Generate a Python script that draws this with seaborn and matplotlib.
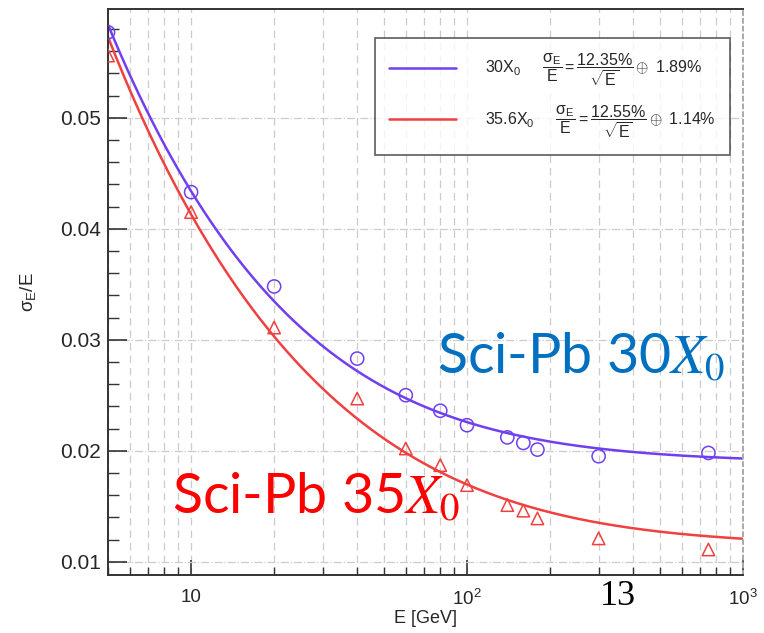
import numpy as np
import pandas as pd
import matplotlib
matplotlib.use('Agg')
import matplotlib.pyplot as plt
import matplotlib.ticker as mticker
import seaborn as sns

energy = [5, 10, 20, 40, 60, 80, 100, 140, 160, 180, 300, 750]
res_30x0 = [0.0577, 0.0433, 0.0348, 0.0283, 0.0250, 0.0236, 0.0223, 0.0212, 0.0207, 0.0201, 0.0195, 0.0198]
res_356x0 = [0.0556, 0.0415, 0.0311, 0.0247, 0.0202, 0.0187, 0.0169, 0.0151, 0.0146, 0.0139, 0.0121, 0.0111]

# fit parameters: sigma/E = a/sqrt(E) (+) b
stoch_30, const_30 = 0.1235, 0.0189
stoch_356, const_356 = 0.1255, 0.0114

blue = '#7040f0'
red = '#f04040'

sns.set_style('white')
plt.rcParams['font.family'] = ['Liberation Sans', 'DejaVu Sans']
plt.rcParams['mathtext.fontset'] = 'custom'
plt.rcParams['mathtext.rm'] = 'Liberation Sans'
plt.rcParams['mathtext.it'] = 'Liberation Sans'
plt.rcParams['mathtext.sf'] = 'Liberation Sans'

df = pd.DataFrame({'E': energy, 'r30': res_30x0, 'r356': res_356x0})

e_fit = np.geomspace(5, 1000, 300)
fit = pd.DataFrame({
    'E': e_fit,
    'f30': np.sqrt((stoch_30 / np.sqrt(e_fit)) ** 2 + const_30 ** 2),
    'f356': np.sqrt((stoch_356 / np.sqrt(e_fit)) ** 2 + const_356 ** 2),
})

fig = plt.figure(figsize=(7.64, 6.33), dpi=100)
ax = fig.add_axes([0.1414, 0.0916, 0.831, 0.8942])

lbl30 = '30X$_0$     $\\dfrac{\\sigma_E}{E} = \\dfrac{12.35\\%}{\\sqrt{E}}\\oplus$ 1.89%'
lbl356 = '35.6X$_0$     $\\dfrac{\\sigma_E}{E} = \\dfrac{12.55\\%}{\\sqrt{E}}\\oplus$ 1.14%'

sns.lineplot(data=fit, x='E', y='f30', ax=ax, color=blue, lw=1.8, label=lbl30)
sns.lineplot(data=fit, x='E', y='f356', ax=ax, color=red, lw=1.8, label=lbl356)
sns.scatterplot(data=df, x='E', y='r30', ax=ax, marker='o', s=90,
                facecolors='none', edgecolor=blue, linewidth=1.1, zorder=3)
sns.scatterplot(data=df, x='E', y='r356', ax=ax, marker='^', s=80,
                facecolors='none', edgecolor=red, linewidth=1.1, zorder=3)

ax.set_xscale('log')
ax.set_xlim(5, 1000)
ax.set_ylim(0.0088, 0.0598)

ax.xaxis.set_major_locator(mticker.FixedLocator([10, 100, 1000]))
ax.xaxis.set_major_formatter(mticker.FixedFormatter(['10', '$10^2$', '$10^3$']))
ax.xaxis.set_minor_locator(mticker.LogLocator(base=10, subs=np.arange(2, 10)))
ax.xaxis.set_minor_formatter(mticker.NullFormatter())
ax.yaxis.set_major_locator(mticker.MultipleLocator(0.01))
ax.yaxis.set_major_formatter(mticker.FormatStrFormatter('%.2f'))
ax.yaxis.set_minor_locator(mticker.MultipleLocator(0.002))

ax.tick_params(axis='x', which='major', direction='in', length=11, width=1.2,
               color='#333333', labelsize=13.5, pad=10, bottom=True)
ax.tick_params(axis='x', which='minor', direction='in', length=6, width=1.0,
               color='#333333', bottom=True)
ax.tick_params(axis='y', which='major', direction='in', length=14, width=1.2,
               color='#333333', labelsize=15, pad=5, left=True)
ax.tick_params(axis='y', which='minor', direction='in', length=8, width=1.0,
               color='#333333', left=True)

ax.grid(True, axis='x', which='both', color='#cccccc', ls=(0, (6, 4)), lw=0.9)
ax.grid(True, axis='y', which='major', color='#cccccc', ls='-.', lw=0.9)

for side in ['left', 'bottom', 'top']:
    ax.spines[side].set_color('#333333')
    ax.spines[side].set_linewidth(1.4)
ax.spines['right'].set_color('#aaaaaa')
ax.spines['right'].set_linestyle((0, (2, 2)))
ax.spines['right'].set_linewidth(1.4)

ax.set_xlabel('E [GeV]', fontsize=13, labelpad=1)
ax.set_ylabel('$\\sigma_E$/E', fontsize=13.5, labelpad=16)

leg = ax.legend(loc='upper right', bbox_to_anchor=(0.98, 0.949), fontsize=11.5,
                frameon=True, fancybox=False, edgecolor='#333333',
                handlelength=4.2, handletextpad=1.8, labelspacing=0.9,
                borderpad=0.9, borderaxespad=0)
leg.get_frame().set_linewidth(1.2)

fig.text(0.572, 0.411, 'Sci-Pb 30$X_0$', color='#0070c0', fontsize=40,
         family='Lato', math_fontfamily='stix', ha='left', va='baseline')
fig.text(0.225, 0.190, 'Sci-Pb 35$X_0$', color='#ff0000', fontsize=40,
         family='Lato', math_fontfamily='stix', ha='left', va='baseline')
fig.text(0.785, 0.045, '13', color='black', fontsize=26,
         family='Liberation Serif', ha='left', va='baseline')

fig.savefig('out.png', dpi=100)
